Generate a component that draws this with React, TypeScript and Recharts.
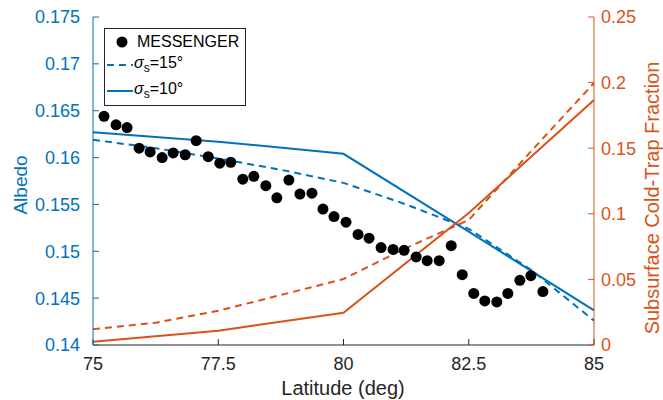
import {
    ComposedChart,
    Legend,
    Line,
    Scatter,
    XAxis,
    YAxis
} from "recharts";

// model latitudes (deg)
const latitudes = [75, 77.5, 80, 82.5, 85];
const fineLatitudes = [75, 76.25, 77.5, 78.75, 80, 81.25, 82.5, 83.75, 85];

// albedo, left axis
const albedoSigma10 = [0.1627, 0.1617, 0.1604, 0.1521, 0.1437];
const albedoSigma15 = [0.1619, 0.161, 0.1599, 0.1587, 0.1573, 0.155, 0.1524, 0.148, 0.1426];

// subsurface cold-trap fraction, right axis
const coldTrapSigma10 = [0.0025, 0.0109, 0.0246, 0.1006, 0.1867];
const coldTrapSigma15 = [0.012, 0.017, 0.0261, 0.0381, 0.0503, 0.0739, 0.0953, 0.1479, 0.1997];

// MESSENGER observations
const messengerLat = [
    75.22, 75.46, 75.68, 75.92, 76.14, 76.38, 76.6, 76.84, 77.06, 77.3,
    77.53, 77.75, 77.99, 78.21, 78.45, 78.67, 78.91, 79.13, 79.37, 79.59,
    79.81, 80.05, 80.29, 80.51, 80.75, 80.99, 81.21, 81.45, 81.67, 81.91,
    82.15, 82.37, 82.6, 82.82, 83.06, 83.28, 83.52, 83.74, 83.98
];
const messengerAlbedo = [
    0.1644, 0.1635, 0.1632, 0.161, 0.1606, 0.16, 0.1605, 0.1603, 0.1618, 0.1601,
    0.1594, 0.1595, 0.1577, 0.158, 0.157, 0.1557, 0.1576, 0.1561, 0.1562, 0.1545,
    0.1537, 0.1531, 0.1518, 0.1514, 0.1504, 0.1502, 0.1501, 0.1494, 0.149, 0.149,
    0.1506, 0.1475, 0.1455, 0.1447, 0.1446, 0.1455, 0.1469, 0.1474, 0.1457
];

const xTicks = [75, 77.5, 80, 82.5, 85];
const albedoTicks = [0.14, 0.145, 0.15, 0.155, 0.16, 0.165, 0.17, 0.175];
const coldTrapTicks = [0, 0.05, 0.1, 0.15, 0.2, 0.25];

const BLUE = "#0072BD";
const ORANGE = "#D95319";
const DARK = "#262626";
const FONT = "'Liberation Sans', Arial, sans-serif";

const toPoints = (xs: number[], ys: number[]) => xs.map((x, i) => ({ x, y: ys[i] }));

const messenger = toPoints(messengerLat, messengerAlbedo);
const albedo10 = toPoints(latitudes, albedoSigma10);
const albedo15 = toPoints(fineLatitudes, albedoSigma15);
const coldTrap10 = toPoints(latitudes, coldTrapSigma10);
const coldTrap15 = toPoints(fineLatitudes, coldTrapSigma15);

function Sigma({ deg }: { deg: number }) {
    return (
        <span>
            <i>σ</i>
            <sub style={{ fontSize: 12 }}>s</sub>={deg}°
        </span>
    );
}

function LegendBox() {
    const row = { position: "absolute" as const, left: 0, display: "flex", alignItems: "center", height: 22 };
    return (
        <div
            style={{
                width: 142,
                height: 78,
                boxSizing: "border-box",
                border: "1px solid #262626",
                background: "#fff",
                position: "relative",
                fontFamily: FONT,
                fontSize: 16,
                color: "#000",
                lineHeight: 1
            }}
        >
            <div style={{ ...row, top: 2 }}>
                <svg width={32} height={22}>
                    <circle cx={17} cy={11} r={5.5} fill="#000" />
                </svg>
                <span>MESSENGER</span>
            </div>
            <div style={{ ...row, top: 25 }}>
                <svg width={29} height={22}>
                    <line x1={2} y1={11} x2={28} y2={11} stroke={BLUE} strokeWidth={2} strokeDasharray="7 5" />
                </svg>
                <Sigma deg={15} />
            </div>
            <div style={{ ...row, top: 51 }}>
                <svg width={29} height={22}>
                    <line x1={2} y1={11} x2={28} y2={11} stroke={BLUE} strokeWidth={2} />
                </svg>
                <Sigma deg={10} />
            </div>
        </div>
    );
}

export default function App() {
    return (
        <div style={{ position: "absolute", left: 0, top: 0, width: 663, height: 400, background: "#fff", fontFamily: FONT }}>
            <ComposedChart width={663} height={400} margin={{ top: 17, right: 9, bottom: 25, left: 0 }}>
                <XAxis
                    xAxisId="bottom"
                    dataKey="x"
                    type="number"
                    domain={[75, 85]}
                    ticks={xTicks}
                    height={30}
                    stroke={DARK}
                    tickSize={-6}
                    tickMargin={18}
                    tick={{ fill: DARK, fontSize: 18, fontFamily: FONT }}
                    label={{
                        content: () => (
                            <text x={343} y={395} textAnchor="middle" fill={DARK} fontSize={20} fontFamily={FONT}>
                                Latitude (deg)
                            </text>
                        )
                    }}
                />
                <XAxis
                    xAxisId="top"
                    dataKey="x"
                    type="number"
                    orientation="top"
                    domain={[75, 85]}
                    ticks={xTicks}
                    height={0}
                    stroke={DARK}
                    tickSize={-6}
                    tick={false}
                />
                <YAxis
                    yAxisId="left"
                    type="number"
                    domain={[0.14, 0.175]}
                    ticks={albedoTicks}
                    width={93}
                    stroke={BLUE}
                    tickSize={-6}
                    tickMargin={19}
                    tick={{ fill: BLUE, fontSize: 18, fontFamily: FONT }}
                    label={{
                        content: () => (
                            <text x={27} y={185} transform="rotate(-90 27 185)" textAnchor="middle" fill={BLUE} fontSize={19} fontFamily={FONT}>
                                Albedo
                            </text>
                        )
                    }}
                />
                <YAxis
                    yAxisId="right"
                    orientation="right"
                    type="number"
                    domain={[0, 0.25]}
                    ticks={coldTrapTicks}
                    width={60}
                    stroke={ORANGE}
                    tickSize={-6}
                    tickMargin={13}
                    tick={{ fill: ORANGE, fontSize: 18, fontFamily: FONT }}
                    label={{
                        content: () => (
                            <text x={659} y={198} transform="rotate(-90 659 198)" textAnchor="middle" fill={ORANGE} fontSize={20} fontFamily={FONT}>
                                Subsurface Cold-Trap Fraction
                            </text>
                        )
                    }}
                />
                <Scatter
                    xAxisId="bottom"
                    yAxisId="left"
                    data={messenger}
                    dataKey="y"
                    isAnimationActive={false}
                    shape={(p: any) => <circle cx={p.cx} cy={p.cy} r={5.5} fill="#000" />}
                />
                <Line xAxisId="bottom" yAxisId="left" data={albedo15} dataKey="y" type="linear" stroke={BLUE} strokeWidth={2} strokeDasharray="7 5" dot={false} activeDot={false} isAnimationActive={false} />
                <Line xAxisId="bottom" yAxisId="left" data={albedo10} dataKey="y" type="linear" stroke={BLUE} strokeWidth={2} dot={false} activeDot={false} isAnimationActive={false} />
                <Line xAxisId="bottom" yAxisId="right" data={coldTrap15} dataKey="y" type="linear" stroke={ORANGE} strokeWidth={2} strokeDasharray="7 5" dot={false} activeDot={false} isAnimationActive={false} />
                <Line xAxisId="bottom" yAxisId="right" data={coldTrap10} dataKey="y" type="linear" stroke={ORANGE} strokeWidth={2} dot={false} activeDot={false} isAnimationActive={false} />
                <Legend
                    layout="vertical"
                    align="center"
                    verticalAlign="middle"
                    wrapperStyle={{ position: "absolute", left: 104, top: 28, width: 142, height: 78 }}
                    content={() => <LegendBox />}
                />
            </ComposedChart>
        </div>
    );
}
